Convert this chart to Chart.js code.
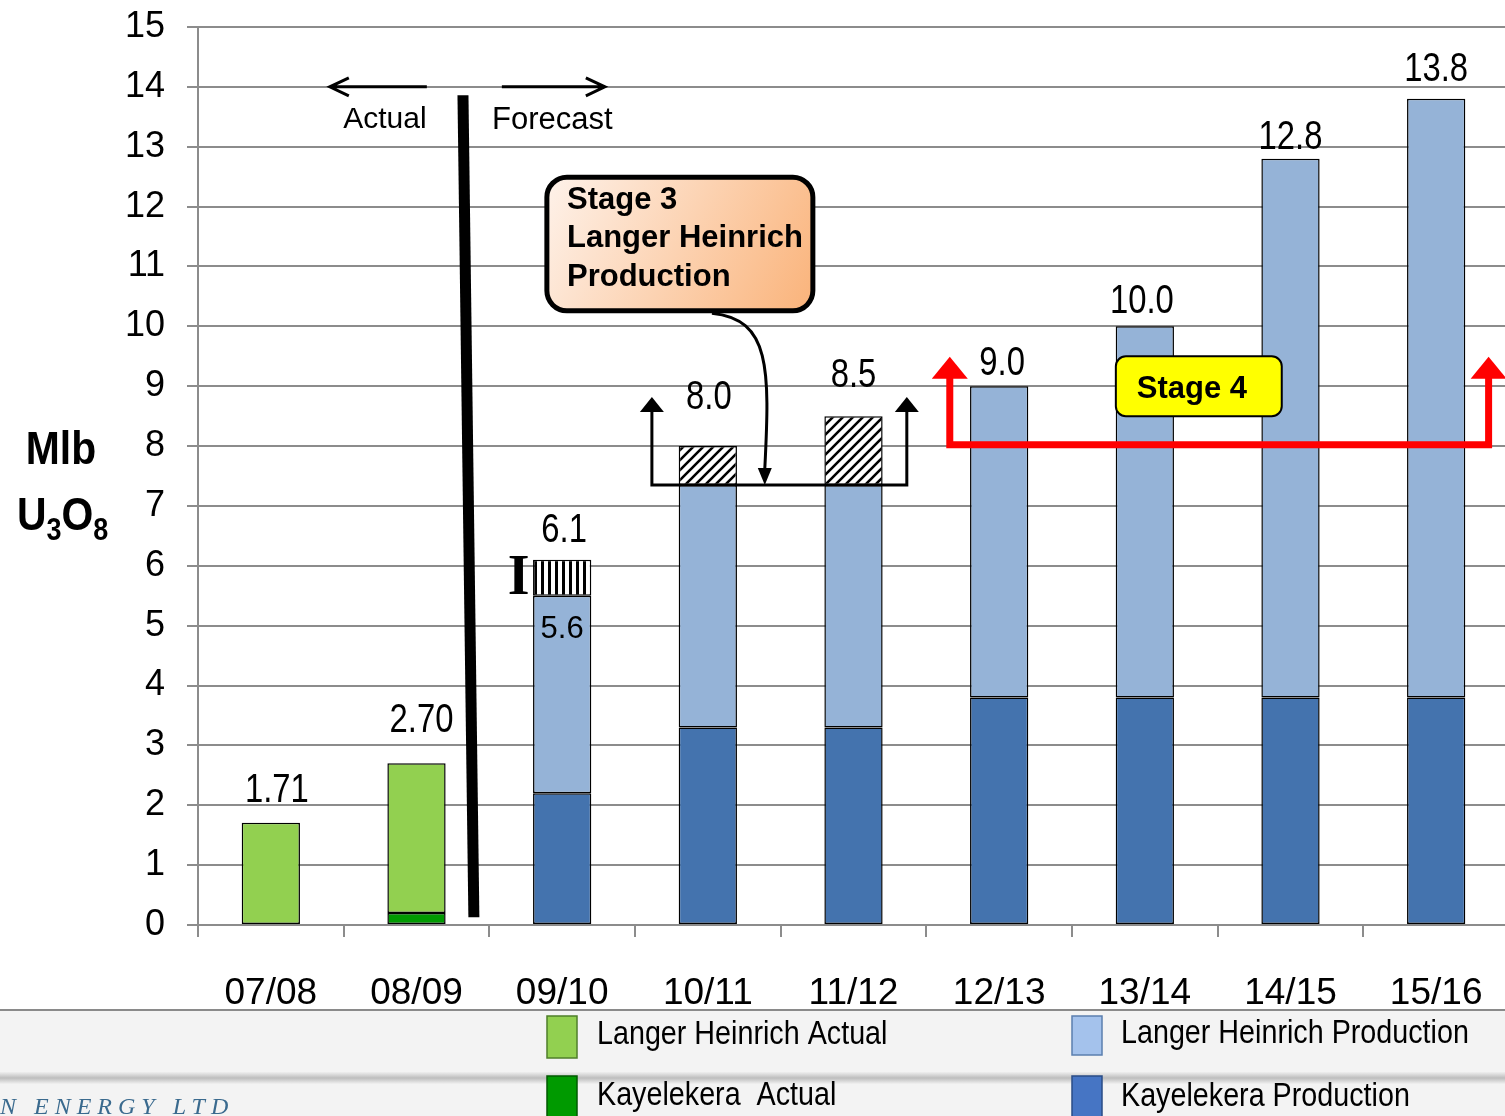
<!DOCTYPE html>
<html>
<head>
<meta charset="utf-8">
<script src="https://cdn.jsdelivr.net/npm/chart.js@4.4.1/dist/chart.umd.min.js"></script>
<style>
html, body { margin: 0; padding: 0; background: #fff; overflow: hidden; }
#wrap { width: 1512px; height: 1116px; }
</style>
</head>
<body>
<div id="wrap"><canvas id="uranium_chart" width="1512" height="1116"></canvas></div>
<script>
// financial years
const years = ["07/08", "08/09", "09/10", "10/11", "11/12", "12/13", "13/14", "14/15", "15/16"];

// Mlb U3O8, stacked bottom to top
const kayelekeraActual     = [null, 0.2, null, null, null, null, null, null, null];
const langerActual         = [1.71, 2.5, null, null, null, null, null, null, null];
const kayelekeraProduction = [null, null, 2.2, 3.3, 3.3, 3.8, 3.8, 3.8, 3.8];
const langerProduction     = [null, null, 3.3, 4.05, 4.05, 5.2, 6.2, 9.0, 10.0];
const stage3Expansion      = [null, null, 0.6, 0.65, 1.15, null, null, null, null];

const totalLabels = ["1.71", "2.70", "6.1", "8.0", "8.5", "9.0", "10.0", "12.8", "13.8"];

const yMin = 0, yMax = 15, yStep = 1;

const ARIAL = "'Liberation Sans', Arial, sans-serif";

function makeHatch(kind) {
    let c = document.createElement("canvas");
    let s = kind === "vertical" ? 7 : 10;
    c.width = s; c.height = s;
    let g = c.getContext("2d");
    g.fillStyle = "#fff";
    g.fillRect(0, 0, s, s);
    g.strokeStyle = "#000";
    g.lineWidth = kind === "vertical" ? 3 : 2.6;
    g.beginPath();
    if (kind === "vertical") {
        g.moveTo(3.5, 0); g.lineTo(3.5, s);
    } else {
        g.moveTo(0, s); g.lineTo(s, 0);
        g.moveTo(-2, 2); g.lineTo(2, -2);
        g.moveTo(s - 2, s + 2); g.lineTo(s + 2, s - 2);
    }
    g.stroke();
    return document.createElement("canvas").getContext("2d").createPattern(c, "repeat");
}

let vertHatch = makeHatch("vertical");
let diagHatch = makeHatch("diagonal");

// narrow look: draw text squeezed horizontally
function squeezeText(ctx, text, x, y, sx, align) {
    ctx.save();
    ctx.translate(x, y);
    ctx.scale(sx, 1);
    ctx.textAlign = align || "left";
    ctx.fillText(text, 0, 0);
    ctx.restore();
}

// label lift above each bar top (px) and small horizontal nudge
const labelStyle = {
    lift:  [21, 31, 18, 37, 29, 11, 13, 10, 18],
    shift: [6, 5, 2, 1, 0, 3, -3, 0, 0]
};

const totalsPlugin = {
    id: "totals",
    afterDatasetsDraw(chart) {
        let ctx = chart.ctx;
        let xs = chart.scales.x, ys = chart.scales.y;
        ctx.save();
        ctx.fillStyle = "#000";
        ctx.font = "40px " + ARIAL;
        ctx.textBaseline = "alphabetic";
        years.forEach((y, i) => {
            let total = [kayelekeraActual, langerActual, kayelekeraProduction, langerProduction, stage3Expansion]
                .reduce((a, arr) => a + (arr[i] || 0), 0);
            let px = xs.getPixelForValue(i) + labelStyle.shift[i];
            let py = ys.getPixelForValue(total) - labelStyle.lift[i];
            squeezeText(ctx, totalLabels[i], px, py, 0.82, "center");
        });
        // value inside the 09/10 bar
        ctx.font = "31px " + ARIAL;
        ctx.textAlign = "center";
        ctx.fillText("5.6", xs.getPixelForValue(2), ys.getPixelForValue(4.79));
        ctx.restore();
    }
};

function arrowHead(ctx, tipX, tipY, baseY, half) {
    ctx.beginPath();
    ctx.moveTo(tipX, tipY);
    ctx.lineTo(tipX - half, baseY);
    ctx.lineTo(tipX + half, baseY);
    ctx.closePath();
    ctx.fill();
}

function roundRect(ctx, x, y, w, h, r) {
    ctx.beginPath();
    ctx.moveTo(x + r, y);
    ctx.arcTo(x + w, y, x + w, y + h, r);
    ctx.arcTo(x + w, y + h, x, y + h, r);
    ctx.arcTo(x, y + h, x, y, r);
    ctx.arcTo(x, y, x + w, y, r);
    ctx.closePath();
}

const annotationPlugin = {
    id: "annotations",
    afterDraw(chart) {
        let ctx = chart.ctx;
        let xs = chart.scales.x, ys = chart.scales.y;
        let cw = xs.getPixelForValue(1) - xs.getPixelForValue(0);
        let X = f => xs.getPixelForValue(0) + f * cw;
        let Y = v => ys.getPixelForValue(v);
        ctx.save();

        // actual / forecast divider
        ctx.strokeStyle = "#000";
        ctx.lineWidth = 11;
        ctx.beginPath();
        ctx.moveTo(X(1.319), Y(13.86));
        ctx.lineTo(X(1.394), Y(0.13));
        ctx.stroke();

        // Actual / Forecast arrows
        ctx.lineWidth = 3;
        ctx.beginPath();
        ctx.moveTo(X(0.405), Y(14)); ctx.lineTo(X(1.071), Y(14));
        ctx.moveTo(X(0.405) + 19, Y(14) - 9); ctx.lineTo(X(0.405), Y(14)); ctx.lineTo(X(0.405) + 19, Y(14) + 9);
        ctx.moveTo(X(1.586), Y(14)); ctx.lineTo(X(2.293), Y(14));
        ctx.moveTo(X(2.293) - 19, Y(14) - 9); ctx.lineTo(X(2.293), Y(14)); ctx.lineTo(X(2.293) - 19, Y(14) + 9);
        ctx.stroke();
        ctx.fillStyle = "#000";
        ctx.font = "30px " + ARIAL;
        ctx.textAlign = "center";
        ctx.fillText("Actual", X(0.783), Y(13.31));
        ctx.textAlign = "left";
        ctx.font = "31px " + ARIAL;
        ctx.fillText("Forecast", X(1.518), Y(13.30));

        // Stage 3 call-out
        let bx = X(1.895), by = Y(12.49), bw = X(3.721) - bx, bh = Y(10.26) - by;
        let grad = ctx.createLinearGradient(bx, by, bx + bw, by + bh);
        grad.addColorStop(0, "#FEF2EA");
        grad.addColorStop(1, "#FAB37A");
        roundRect(ctx, bx, by, bw, bh, 20);
        ctx.fillStyle = grad;
        ctx.fill();
        ctx.lineWidth = 5;
        ctx.strokeStyle = "#000";
        ctx.stroke();
        ctx.fillStyle = "#000";
        ctx.font = "bold 31px " + ARIAL;
        ctx.fillText("Stage 3", X(2.033), Y(11.96));
        ctx.fillText("Langer Heinrich", X(2.033), Y(11.32));
        ctx.fillText("Production", X(2.033), Y(10.67));

        // curved pointer to the stage 3 bracket
        ctx.lineWidth = 3;
        ctx.beginPath();
        ctx.moveTo(X(3.028), Y(10.22));
        ctx.bezierCurveTo(X(3.43), Y(10.12), X(3.426), Y(9.3), X(3.391), Y(7.62));
        ctx.stroke();
        arrowHead(ctx, X(3.391), Y(7.35), Y(7.35) - 17, 7);

        // stage 3 bracket
        ctx.lineWidth = 3;
        ctx.beginPath();
        ctx.moveTo(X(2.616), Y(8.6));
        ctx.lineTo(X(2.616), Y(7.35));
        ctx.lineTo(X(4.366), Y(7.35));
        ctx.lineTo(X(4.366), Y(8.6));
        ctx.stroke();
        arrowHead(ctx, X(2.616), Y(8.82), Y(8.82) + 15, 12);
        arrowHead(ctx, X(4.366), Y(8.82), Y(8.82) + 15, 12);

        // stage 4 bracket (red)
        ctx.strokeStyle = "#FF0000";
        ctx.fillStyle = "#FF0000";
        ctx.lineWidth = 7;
        ctx.beginPath();
        ctx.moveTo(X(4.661), Y(9.15));
        ctx.lineTo(X(4.661), Y(8.02));
        ctx.lineTo(X(8.360), Y(8.02));
        ctx.lineTo(X(8.360), Y(9.15));
        ctx.stroke();
        arrowHead(ctx, X(4.661), Y(9.49), Y(9.49) + 22, 18);
        arrowHead(ctx, X(8.360), Y(9.49), Y(9.49) + 22, 18);

        // Stage 4 box
        let sx = X(5.801), sy = Y(9.50), sw = X(6.940) - sx, sh = Y(8.50) - sy;
        roundRect(ctx, sx, sy, sw, sh, 10);
        ctx.fillStyle = "#FFFF00";
        ctx.fill();
        ctx.strokeStyle = "#000";
        ctx.lineWidth = 2;
        ctx.stroke();
        ctx.fillStyle = "#000";
        ctx.font = "bold 31px " + ARIAL;
        ctx.fillText("Stage 4", X(5.945), Y(8.80));

        // error-bar glyph beside 09/10
        ctx.font = "bold 56px 'Liberation Serif', serif";
        ctx.fillText("I", X(1.627), Y(5.53));

        // y-axis title
        ctx.font = "bold 47px " + ARIAL;
        squeezeText(ctx, "Mlb", 61, 464, 0.87, "center");
        let tx = 17;
        let big = ctx.measureText("U").width * 0.87;
        squeezeText(ctx, "U", tx, 530, 0.87); tx += big;
        ctx.font = "bold 31px " + ARIAL;
        squeezeText(ctx, "3", tx, 540, 0.87); tx += ctx.measureText("3").width * 0.87;
        ctx.font = "bold 47px " + ARIAL;
        squeezeText(ctx, "O", tx, 530, 0.87); tx += ctx.measureText("O").width * 0.87;
        ctx.font = "bold 31px " + ARIAL;
        squeezeText(ctx, "8", tx, 540, 0.87);

        // legend band
        let W = chart.width;
        ctx.fillStyle = "#F3F3F3";
        ctx.fillRect(0, 1010, W, 1116 - 1010);
        let sh2 = ctx.createLinearGradient(0, 1072, 0, 1084);
        sh2.addColorStop(0, "#EFEFEF");
        sh2.addColorStop(0.5, "#BDBDBD");
        sh2.addColorStop(1, "#F1F1F1");
        ctx.fillStyle = sh2;
        ctx.fillRect(0, 1072, W, 12);
        ctx.fillStyle = "#8A8A8A";
        ctx.fillRect(0, 1009, W, 2);

        let items = [
            { ds: 1, x: 547, y: 1016, h: 42, fill: "#92D050", edge: "#4F7F2A", tx: 597, ty: 1044 },
            { ds: 0, x: 547, y: 1076, h: 42, fill: "#009A00", edge: "#005A00", tx: 597, ty: 1105 },
            { ds: 3, x: 1072, y: 1016, h: 39, fill: "#A4C2EC", edge: "#5B7FAF", tx: 1121, ty: 1043 },
            { ds: 2, x: 1072, y: 1076, h: 42, fill: "#4675C4", edge: "#2A4C86", tx: 1121, ty: 1106 }
        ];
        items.forEach(it => {
            ctx.fillStyle = it.fill;
            ctx.fillRect(it.x, it.y, 30, it.h);
            ctx.strokeStyle = it.edge;
            ctx.lineWidth = 1.5;
            ctx.strokeRect(it.x, it.y, 30, it.h);
            ctx.fillStyle = "#000";
            ctx.font = "33px " + ARIAL;
            squeezeText(ctx, chart.data.datasets[it.ds].label, it.tx, it.ty, 0.87);
        });

        // company wordmark (cropped)
        ctx.fillStyle = "#3A6A8E";
        ctx.font = "italic 24px 'Liberation Serif', serif";
        ctx.letterSpacing = "6px";
        ctx.fillText("N ENERGY LTD", 0, 1114);
        ctx.letterSpacing = "0px";

        ctx.restore();
    }
};

let ctx = document.getElementById("uranium_chart").getContext("2d");

let barBase = {
    borderColor: "#000",
    borderWidth: 1.5,
    borderSkipped: false,
    barPercentage: 0.4,
    categoryPercentage: 1.0
};

let currentChart = new Chart(ctx, {
    type: "bar",
    data: {
        labels: years,
        datasets: [
            Object.assign({ label: "Kayelekera  Actual", data: kayelekeraActual, backgroundColor: "#009A00" }, barBase),
            Object.assign({ label: "Langer Heinrich Actual", data: langerActual, backgroundColor: "#92D050" }, barBase),
            Object.assign({ label: "Kayelekera Production", data: kayelekeraProduction, backgroundColor: "#4473AE" }, barBase),
            Object.assign({ label: "Langer Heinrich Production", data: langerProduction, backgroundColor: "#95B3D7" }, barBase),
            Object.assign({ label: "Stage 3 expansion", data: stage3Expansion,
                backgroundColor: ["#fff", "#fff", vertHatch, diagHatch, diagHatch, "#fff", "#fff", "#fff", "#fff"] }, barBase)
        ]
    },
    options: {
        responsive: false,
        animation: false,
        devicePixelRatio: 1,
        layout: { padding: { top: 27, right: 3, left: 0, bottom: 0 } },
        plugins: {
            legend: { display: false },
            tooltip: { enabled: false }
        },
        scales: {
            x: {
                stacked: true,
                grid: { offset: true, drawOnChartArea: false, drawTicks: true, tickLength: 12, color: "#8C8C8C", lineWidth: 2 },
                border: { color: "#8C8C8C", width: 2 },
                ticks: { color: "#000", font: { family: ARIAL, size: 37 }, padding: 35, maxRotation: 0 },
                afterFit(scale) {
                    scale.height = 191;
                    scale.paddingLeft = 0;
                    scale.paddingRight = 0;
                }
            },
            y: {
                stacked: true,
                min: yMin,
                max: yMax,
                ticks: { stepSize: yStep, color: "#000", font: { family: ARIAL, size: 36 }, padding: 22 },
                grid: { color: "#8C8C8C", lineWidth: 2, tickLength: 11 },
                border: { color: "#8C8C8C", width: 2 },
                afterFit(scale) {
                    scale.width = 198;
                    scale.paddingTop = 0;
                    scale.paddingBottom = 0;
                }
            }
        }
    },
    plugins: [totalsPlugin, annotationPlugin]
});
</script>
</body>
</html>
